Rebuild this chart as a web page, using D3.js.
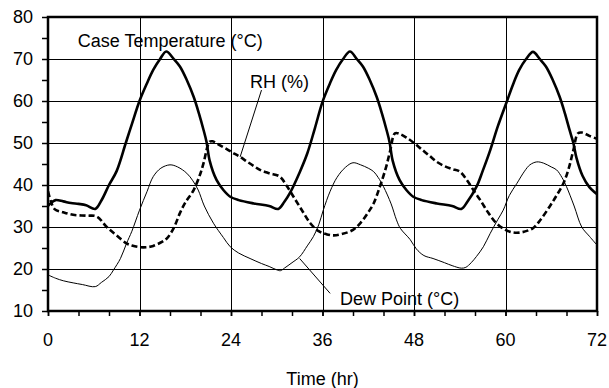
<!DOCTYPE html>
<html>
<head>
<meta charset="utf-8">
<script src="https://cdn.jsdelivr.net/npm/d3@7"></script>
<style>
  html, body { margin: 0; padding: 0; background: #fff; }
  svg { display: block; }
  text { font-family: "Liberation Sans", Arial, sans-serif; fill: #000; }
</style>
</head>
<body>
<svg id="chart" width="609" height="388"></svg>
<script>
// ---- Data (time in hours) ----
const caseTime = [0,0.5,1,2,3,4,5,6.2,7,8,9,10.2,11,12,13,13.8,14.7,15.5,16.5,17.3,18.2,19.1,19.8,20.4,20.8,21.2,22.1,23,23.9,25,27,29,30.2,31,31.7,33,34,35,36,37,37.8,38.7,39.6,40.5,41.3,42.2,43.1,43.8,44.4,44.8,45.2,46.1,47,47.9,49,51,53,54.2,55,56.2,57,58,59,60.2,61,61.8,62.7,63.6,64.5,65.3,66.2,67.1,67.8,68.4,68.9,69.3,70.1,71,72];
const caseTemp = [35,35.9,36.4,36.1,35.7,35.5,35.2,34.3,36.3,40,43.3,50,54.5,60,64.3,67.4,70,71.8,70,68.2,65,61,57,53.1,50.2,45.8,41.2,38.8,37.2,36.4,35.6,35,34.3,36,38,43,47.5,53.5,59.8,64.3,67.4,70,71.8,70,68.2,65,61,57,53.1,50.2,45.8,41.2,38.8,37.2,36.4,35.6,35,34.3,36,39.6,43.3,48.3,54,60,64,67.4,70,71.7,70,68.2,65,61,57,53.1,50,46.5,42.2,39.5,37.8];

const dewTime = [0,1,2,3.3,4.5,6.2,7,8,8.6,9.5,10.3,11,12,13,13.8,14.8,16,17,18.2,19,19.7,20.5,21.7,23,23.9,25,26.5,28,29,30,30.5,31,32,33,34,34.8,35.5,36.1,37,37.9,39,40,41,42,42.7,43.3,44,45,45.7,46.2,47.5,48.3,49.3,50.5,52,53,54.2,54.8,55.5,56.2,57.1,58,59,59.7,60.5,61.5,62.5,63.2,64.1,65,66,66.7,67.4,68,69,70,71,72];
const dewPoint = [18.6,17.8,17.2,16.7,16.3,15.8,16.8,18.2,19.8,22.5,26.1,29,34,38.5,42,44,44.8,44.3,42.8,41,38.8,35,30.9,27.5,25.3,23.8,22.5,21.3,20.6,19.8,19.6,20.2,21.5,22.9,25.5,27.7,30.5,34,38.5,41.8,44.2,45.3,44.8,44,43.2,41.8,39.6,35.5,31.7,29.7,27,24.8,23.2,22.5,21.5,20.8,20.2,20.4,21.5,23,25.3,28.5,31.8,34,37.5,40.4,43.3,44.8,45.5,45.2,44.3,43.6,41.8,39.6,35,30,27.8,25.7];

const rhTime = [0,0.4,0.9,2,3.3,5,6.4,7.7,9,10.3,11,12,13,13.8,15,15.6,16.5,17.3,18,19.1,20,20.4,21.2,21.6,22.5,23.5,24.5,25.2,26,27,27.8,29,30.4,31.3,32.2,33.3,34.4,35.5,36.5,37.5,38.5,40,41,42,42.7,43.5,44.3,44.9,45.5,46.2,47,48,49,50,51,52,53,54,55,56,56.7,57.7,58.8,60,61,62,63,63.6,64.5,65.8,66.7,67.6,68.3,68.9,69.5,70,71,72];
const rhValue = [38.5,36,34.2,33.5,32.9,32.7,32.5,30,28,26.1,25.6,25.2,25.2,25.5,26.5,27.3,29.8,33.3,35.8,38.8,42.8,45.2,50.3,50.4,49.5,48.5,47.4,46.7,45.7,44.5,43.6,42.8,42,39.8,37.2,34,30.9,29,28.3,28,28.3,29.3,31,33.5,35.6,39.5,44,48.3,52.3,52.1,51.3,50,48.5,47,45.5,44.5,43.8,43.2,41,38.2,36.4,33.5,30.9,29.3,28.7,28.7,29.2,29.7,31.5,34.9,37.5,40.4,44,48.3,52.3,52.5,51.7,51];

const xTicks = [0,12,24,36,48,60,72];
const yTicks = [10,20,30,40,50,60,70,80];
const xTitle = "Time (hr)";

// annotations in data units: [label, t, v] and leader lines [t1,v1,t2,v2]
const labels = [
  ["Case Temperature (°C)", 3.9, 72.9],
  ["RH (%)", 26.5, 63.1],
  ["Dew Point (°C)", 38.3, 11.4]
];
const leaders = [
  [28, 62.6, 25.2, 46.7],
  [37, 14.2, 33, 22.5]
];

(function () {
// ---- Layout ----
const mLeft = 48, mRight = 597, mTop = 17, mBottom = 311;
const svg = d3.select("#chart");

const x = d3.scaleLinear().domain([0, 72]).range([mLeft, mRight]);
const y = d3.scaleLinear().domain([10, 80]).range([mBottom, mTop]);

const font = 18;

// gridlines
svg.append("g").selectAll("line").data(yTicks.filter(v => v > 10 && v < 80)).join("line")
  .attr("x1", mLeft).attr("x2", mRight).attr("y1", d => Math.round(y(d)) + 0.5).attr("y2", d => Math.round(y(d)) + 0.5)
  .attr("stroke", "#000").attr("stroke-width", 1);
svg.append("g").selectAll("line").data(xTicks.filter(v => v > 0 && v < 72)).join("line")
  .attr("y1", mTop).attr("y2", mBottom).attr("x1", d => Math.round(x(d)) + 0.5).attr("x2", d => Math.round(x(d)) + 0.5)
  .attr("stroke", "#000").attr("stroke-width", 1);

// axes with minor ticks
const xAxis = d3.axisBottom(x).tickValues(d3.range(0, 73, 4).concat(xTicks)).tickSize(5).tickFormat("");
const gx = svg.append("g").attr("transform", `translate(0,${mBottom})`).call(xAxis);
const yAxis = d3.axisLeft(y).tickValues(d3.range(10, 81, 5)).tickSize(6).tickFormat("");
const gy = svg.append("g").attr("transform", `translate(${mLeft},0)`).call(yAxis);
[gx, gy].forEach(g => {
  g.select(".domain").remove();
  g.selectAll(".tick line").attr("stroke", "#000").attr("stroke-width", 1.5);
});

// tick labels
svg.append("g").selectAll("text").data(xTicks).join("text")
  .attr("x", d => x(d)).attr("y", 346).attr("text-anchor", "middle")
  .attr("font-size", font).text(d => d);
svg.append("g").selectAll("text").data(yTicks).join("text")
  .attr("x", mLeft - 15).attr("y", d => y(d)).attr("dy", "0.36em").attr("text-anchor", "end")
  .attr("font-size", font).text(d => d);

svg.append("text").attr("x", (mLeft + mRight) / 2).attr("y", 385).attr("text-anchor", "middle")
  .attr("font-size", font).text(xTitle);

// series
const line = d3.line().x(d => x(d[0])).y(d => y(d[1])).curve(d3.curveCatmullRom.alpha(0.5));
svg.append("clipPath").attr("id", "plot").append("rect")
  .attr("x", mLeft).attr("y", mTop).attr("width", mRight - mLeft).attr("height", mBottom - mTop);

const plot = svg.append("g").attr("clip-path", "url(#plot)");
plot.append("path").datum(d3.zip(dewTime, dewPoint)).attr("d", line)
  .attr("fill", "none").attr("stroke", "#000").attr("stroke-width", 1);
plot.append("path").datum(d3.zip(rhTime, rhValue)).attr("d", line)
  .attr("fill", "none").attr("stroke", "#000").attr("stroke-width", 2.6)
  .attr("stroke-dasharray", "6,3");
plot.append("path").datum(d3.zip(caseTime, caseTemp)).attr("d", line)
  .attr("fill", "none").attr("stroke", "#000").attr("stroke-width", 2.6)
  .attr("stroke-linejoin", "round");

// frame
svg.append("rect").attr("x", mLeft).attr("y", mTop).attr("width", mRight - mLeft).attr("height", mBottom - mTop)
  .attr("fill", "none").attr("stroke", "#000").attr("stroke-width", 2.5);

// annotations
svg.append("g").selectAll("line").data(leaders).join("line")
  .attr("x1", d => x(d[0])).attr("y1", d => y(d[1])).attr("x2", d => x(d[2])).attr("y2", d => y(d[3]))
  .attr("stroke", "#000").attr("stroke-width", 1);
svg.append("g").selectAll("text").data(labels).join("text")
  .attr("x", d => x(d[1])).attr("y", d => y(d[2])).attr("font-size", font).text(d => d[0]);
})();
</script>
</body>
</html>
